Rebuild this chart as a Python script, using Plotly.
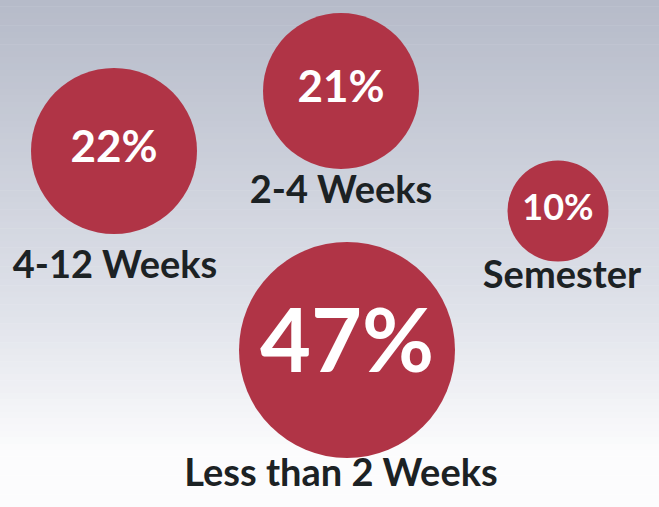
import plotly.graph_objects as go

# ---- data ----
categories = ["4-12 Weeks", "2-4 Weeks", "Semester", "Less than 2 Weeks"]
percent_values = [22, 21, 10, 47]

# ---- layout (pixel-space placement of the bubbles, as on the slide) ----
bubble_x = [114, 341, 558, 347]
bubble_y = [151, 91, 211, 350]
bubble_diam = [166, 156, 101, 216]
value_font_size = [44, 44, 36, 88]
label_x = [115, 341, 562, 341]
label_y = [268, 193, 278, 476]

W, H = 659, 507
RED = "#b03446"

fig = go.Figure()

# background gradient (bluish gray at top fading to white at bottom)
def lerp(a, b, t):
    return tuple(round(a[i] + (b[i] - a[i]) * t) for i in range(3))

top = (182, 187, 201)
mid = (222, 225, 233)
bot = (252, 252, 253)
n = 80
shapes = []
for i in range(n):
    y0 = H * i / n
    y1 = H * (i + 1) / n + 0.5
    t = i / (n - 1)
    if t < 0.6:
        c = lerp(top, mid, t / 0.6)
    else:
        c = lerp(mid, bot, min(1, (t - 0.6) / 0.3))
    shapes.append(dict(type="rect", xref="x", yref="y", x0=0, x1=W, y0=y0, y1=y1,
                       fillcolor="rgb(%d,%d,%d)" % c, line=dict(width=0), layer="below"))

fig.add_trace(go.Scatter(
    x=bubble_x, y=bubble_y,
    mode="markers+text",
    marker=dict(size=bubble_diam, sizemode="diameter", color=RED, opacity=1,
                line=dict(width=0)),
    text=[f"{v}%" for v in percent_values],
    textposition="middle center",
    textfont=dict(family="Lato", size=value_font_size, color="white", weight="bold"),
    hoverinfo="skip", showlegend=False,
))

fig.add_trace(go.Scatter(
    x=label_x, y=label_y,
    mode="text",
    text=categories,
    textposition="middle center",
    textfont=dict(family="Lato", size=38, color="#1c2224", weight="bold"),
    hoverinfo="skip", showlegend=False,
))

fig.update_layout(
    width=W, height=H,
    margin=dict(l=0, r=0, t=0, b=0),
    paper_bgcolor="white", plot_bgcolor="white",
    shapes=shapes,
    xaxis=dict(range=[0, W], visible=False, fixedrange=True),
    yaxis=dict(range=[H, 0], visible=False, fixedrange=True),
)

fig.write_html("out.html")
